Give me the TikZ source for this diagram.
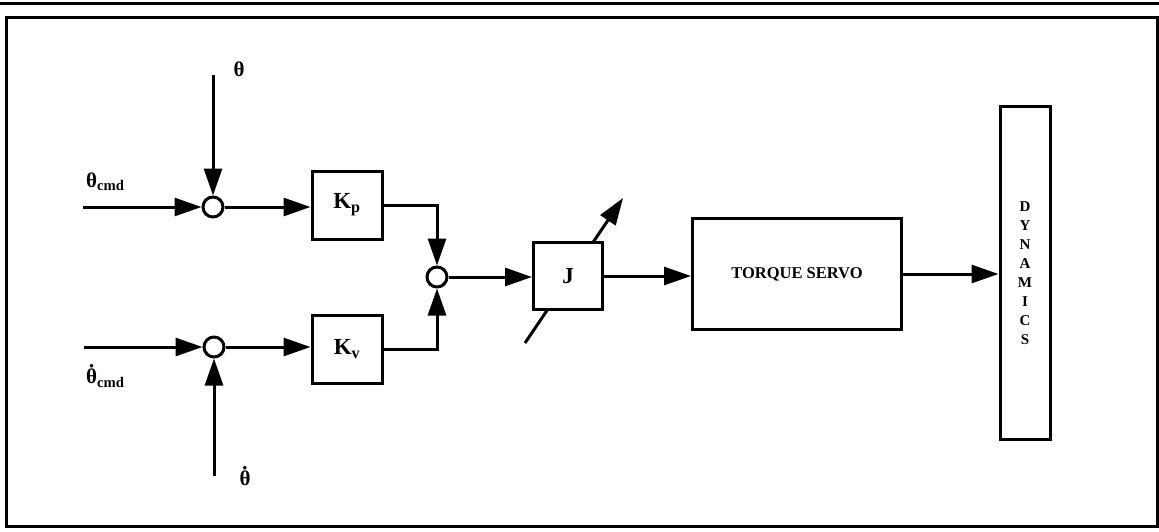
\documentclass[tikz,border=0pt]{standalone}
\usepackage{fontspec}
\setmainfont{Liberation Serif}
\usetikzlibrary{arrows.meta}
\newcommand\thdot{\leavevmode\setbox0\hbox{θ}\rlap{\hbox to\wd0{\hss\raisebox{.62em}{\fontsize{13}{13}\selectfont •}\hss}}\box0}
\begin{document}
\begin{tikzpicture}[x=1pt,y=-1pt,
  wire/.style={line width=3pt},
  arr/.style={wire,-{Triangle[length=27pt,width=18pt]}},
  blk/.style={draw,line width=3pt,fill=white,inner sep=0pt,font=\bfseries\fontsize{23}{25}\selectfont},
  sumj/.style={draw,circle,line width=3pt,fill=white,minimum size=20pt,inner sep=0pt},
  lab/.style={font=\bfseries\fontsize{21}{24}\selectfont,inner sep=0pt}]
\useasboundingbox (0,0) rectangle (1159,532);
% frame
\draw[line width=3pt] (0,4) -- (1159,4);
\draw[line width=3pt] (6,18) rectangle (1157,526);
% nodes
\node[sumj] (s1) at (213,207) {};
\node[sumj] (s2) at (214,347) {};
\node[sumj] (s3) at (437,277) {};
\node[blk,minimum width=70pt,minimum height=68pt] (kp) at (347,205) {K\textsubscript{p}};
\node[blk,minimum width=70pt,minimum height=68pt] (kv) at (347,349) {K\textsubscript{v}};
\coordinate (dA) at (525,343);
\coordinate (dB) at (623,198);
\draw[arr] (dA) -- (dB);
\node[blk,minimum width=69pt,minimum height=67pt] (j) at (568,276) {J};
\node[blk,minimum width=209pt,minimum height=111pt,font=\bfseries\fontsize{16.5}{18}\selectfont] (ts) at (797,274) {TORQUE SERVO};
\node[blk,minimum width=50pt,minimum height=333pt,align=center,font=\bfseries\fontsize{15}{19}\selectfont] (dyn) at (1025,273) {D\\Y\\N\\A\\M\\I\\C\\S};
% inputs
\coordinate (in1) at (83,207);
\coordinate (top) at (213,75);
\coordinate (in2) at (84,347);
\coordinate (bot) at (214,476);
\node[lab] (lth) at (239,69) {θ};
\node[lab,anchor=west] (lthc) at (86,182) {θ\textsubscript{cmd}};
\node[lab,anchor=west] (lthdc) at (86,376) {\thdot\textsubscript{cmd}};
\node[lab] (lthd) at (245,476) {\thdot};
% connectors
\draw[arr] (in1) -- (s1);
\draw[arr] (top) -- (s1);
\draw[arr] (s1) -- (s1 -| kp.west);
\draw[arr] (in2) -- (s2);
\draw[arr] (bot) -- (s2);
\draw[arr] (s2) -- (s2 -| kv.west);
\draw[arr] (kp.east) -| (s3.north);
\draw[arr] (kv.east) -| (s3.south);
\draw[arr] (s3) -- (s3 -| j.west);
\draw[arr] (j.east) -- (j.east -| ts.west);
\draw[arr] (ts.east) -- (ts.east -| dyn.west);
\end{tikzpicture}
\end{document}
